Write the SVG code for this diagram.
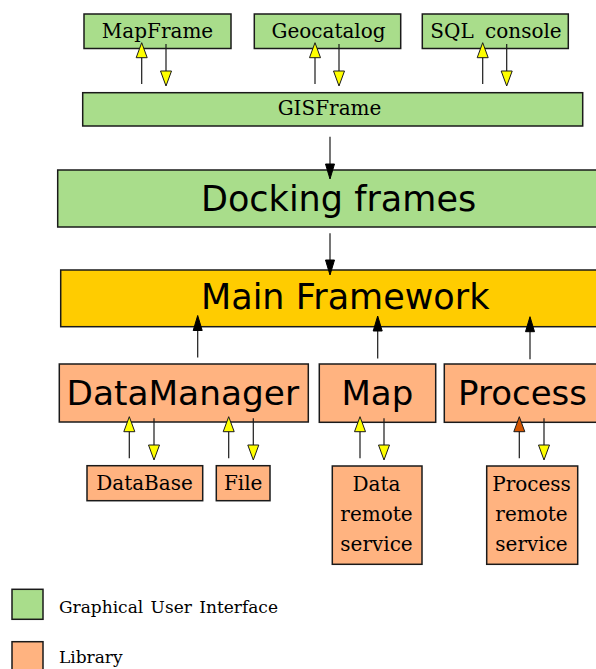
<svg xmlns="http://www.w3.org/2000/svg" xmlns:xlink="http://www.w3.org/1999/xlink" width="596" height="669" viewBox="0 0 596 669">
<style>
.gui{fill:#a9dd8b;stroke:#1a1a1a;stroke-width:1.5}
.lib{fill:#ffb380;stroke:#1a1a1a;stroke-width:1.5}
.core{fill:#ffcc00;stroke:#1a1a1a;stroke-width:1.5}
.big{font-family:"DejaVu Sans",sans-serif;font-size:35px;fill:#000}
.mid{font-family:"DejaVu Sans",sans-serif;font-size:34px;fill:#000}
.sm{font-family:"DejaVu Serif",serif;font-size:20px;fill:#000}
.leg{font-family:"DejaVu Serif",serif;font-size:17px;fill:#000;word-spacing:2px}
.c{stroke:#1a1a1a;stroke-width:1.2;fill:none}
.hy{fill:#ffff00;stroke:#1a1a1a;stroke-width:1}
.ho{fill:#d45500;stroke:#1a1a1a;stroke-width:1}
.hk{fill:#000;stroke:#000;stroke-width:1}
</style>
<defs>
<path id="up" d="M0,0 L5.5,15 L-5.5,15 Z"/>
<path id="dn" d="M0,0 L5.5,-15 L-5.5,-15 Z"/>
<path id="kdn" d="M0,0 L4.5,-15 L-4.5,-15 Z"/>
<path id="kup" d="M0,0 L4.5,15 L-4.5,15 Z"/>
</defs>
<rect width="596" height="669" fill="#fff"/>

<g id="mapframe"><rect class="gui" x="84" y="14" width="147" height="34.5"/><text class="sm" x="157.5" y="38" text-anchor="middle">MapFrame</text></g>
<g id="geocatalog"><rect class="gui" x="254.3" y="14" width="146.4" height="34.5"/><text class="sm" x="328.5" y="38" text-anchor="middle">Geocatalog</text></g>
<g id="sqlconsole"><rect class="gui" x="422.3" y="14" width="146" height="34.5"/><text class="sm" x="496" y="38" text-anchor="middle" style="word-spacing:5px">SQL console</text></g>
<g id="gisframe"><rect class="gui" x="82.7" y="92.7" width="500" height="33.3"/><text class="sm" x="329.5" y="115" text-anchor="middle">GISFrame</text></g>
<g id="docking"><rect class="gui" x="57.7" y="170" width="545" height="57"/><text class="big" x="201" y="210.5">Docking frames</text></g>
<g id="mainframework"><rect class="core" x="60.7" y="270" width="545" height="56.7"/><text class="big" x="201" y="309.3">Main Framework</text></g>
<g id="datamanager"><rect class="lib" x="59.3" y="364" width="249" height="58"/><text class="mid" x="66.5" y="405" textLength="232.5" lengthAdjust="spacingAndGlyphs">DataManager</text></g>
<g id="map"><rect class="lib" x="319.3" y="364" width="116.4" height="58.3"/><text class="mid" x="341.5" y="405">Map</text></g>
<g id="process"><rect class="lib" x="444.3" y="364" width="160" height="58.3"/><text class="mid" x="458" y="405">Process</text></g>
<g id="database"><rect class="lib" x="87" y="465.7" width="115.7" height="35"/><text class="sm" x="144.5" y="490" text-anchor="middle">DataBase</text></g>
<g id="file"><rect class="lib" x="216.3" y="465.7" width="53.7" height="35"/><text class="sm" x="243.2" y="490" text-anchor="middle">File</text></g>
<g id="dataremote"><rect class="lib" x="332.3" y="466" width="89.7" height="98.3"/><text class="sm" x="376.5" y="491" text-anchor="middle">Data</text><text class="sm" x="376.5" y="521" text-anchor="middle">remote</text><text class="sm" x="376.5" y="550.7" text-anchor="middle">service</text></g>
<g id="processremote"><rect class="lib" x="486.7" y="466" width="91" height="98.3"/><text class="sm" x="531.5" y="491" text-anchor="middle">Process</text><text class="sm" x="531.5" y="521" text-anchor="middle">remote</text><text class="sm" x="531.5" y="550.7" text-anchor="middle">service</text></g>

<g id="legend-gui"><rect class="gui" x="12" y="589.3" width="31" height="30"/><text class="leg" x="59" y="613.3">Graphical User Interface</text></g>
<g id="legend-lib"><rect class="lib" x="12" y="641.7" width="31" height="30"/><text class="leg" x="59" y="663.3">Library</text></g>

<g id="connectors">
<line class="c" x1="141.7" y1="84" x2="141.7" y2="50"/><use href="#up" xlink:href="#up" class="hy" x="141.7" y="42.7"/>
<line class="c" x1="166" y1="44" x2="166" y2="78"/><use href="#dn" xlink:href="#dn" class="hy" x="166" y="86"/>
<line class="c" x1="315" y1="84" x2="315" y2="50"/><use href="#up" xlink:href="#up" class="hy" x="315" y="42.7"/>
<line class="c" x1="339" y1="44" x2="339" y2="78"/><use href="#dn" xlink:href="#dn" class="hy" x="339" y="86"/>
<line class="c" x1="482.7" y1="84" x2="482.7" y2="50"/><use href="#up" xlink:href="#up" class="hy" x="482.7" y="42.7"/>
<line class="c" x1="506.7" y1="44" x2="506.7" y2="78"/><use href="#dn" xlink:href="#dn" class="hy" x="506.7" y="86"/>
<line class="c" x1="330" y1="136.7" x2="330" y2="170"/><use href="#kdn" xlink:href="#kdn" class="hk" x="330" y="179"/>
<line class="c" x1="330" y1="233.3" x2="330" y2="266"/><use href="#kdn" xlink:href="#kdn" class="hk" x="330" y="275"/>
<line class="c" x1="197.7" y1="357.5" x2="197.7" y2="325"/><use href="#kup" xlink:href="#kup" class="hk" x="197.7" y="315.5"/>
<line class="c" x1="377.7" y1="358.5" x2="377.7" y2="325"/><use href="#kup" xlink:href="#kup" class="hk" x="377.7" y="316"/>
<line class="c" x1="530" y1="359.3" x2="530" y2="325"/><use href="#kup" xlink:href="#kup" class="hk" x="530" y="316.7"/>
<line class="c" x1="129.3" y1="458.3" x2="129.3" y2="424"/><use href="#up" xlink:href="#up" class="hy" x="129.3" y="416.7"/>
<line class="c" x1="154" y1="418.3" x2="154" y2="452"/><use href="#dn" xlink:href="#dn" class="hy" x="154" y="460"/>
<line class="c" x1="228.7" y1="458.3" x2="228.7" y2="424"/><use href="#up" xlink:href="#up" class="hy" x="228.7" y="416.7"/>
<line class="c" x1="253.3" y1="418.3" x2="253.3" y2="452"/><use href="#dn" xlink:href="#dn" class="hy" x="253.3" y="460"/>
<line class="c" x1="360" y1="458.3" x2="360" y2="424"/><use href="#up" xlink:href="#up" class="hy" x="360" y="416.7"/>
<line class="c" x1="384" y1="418.3" x2="384" y2="452"/><use href="#dn" xlink:href="#dn" class="hy" x="384" y="460"/>
<line class="c" x1="519.3" y1="458.3" x2="519.3" y2="424"/><use href="#up" xlink:href="#up" class="ho" x="519.3" y="416.7"/>
<line class="c" x1="544" y1="418.3" x2="544" y2="452"/><use href="#dn" xlink:href="#dn" class="hy" x="544" y="460"/>
</g>
</svg>
